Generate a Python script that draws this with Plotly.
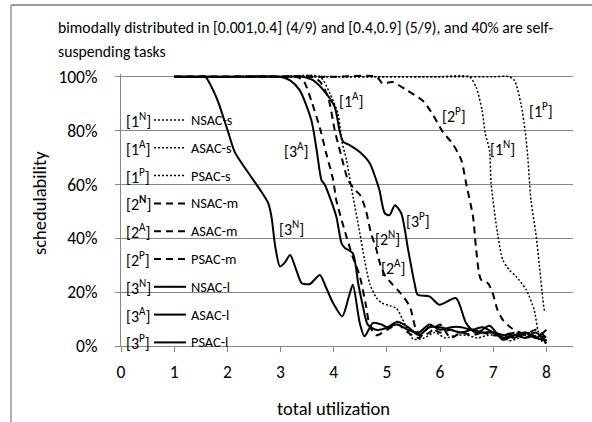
import plotly.graph_objects as go

# ---------------- data ----------------
x_1N = [1, 2, 3, 4, 5, 6, 6.55, 6.68, 6.79, 6.85, 6.93, 6.96, 7.08, 7.18, 7.30, 7.43, 7.62, 7.77, 7.87, 8.0]
y_1N = [100, 100, 100, 100, 100, 100, 100, 96, 87.5, 79, 72.7, 60.4, 41.9, 32, 28.3, 25.8, 20.9, 13.4, 4, 2]

x_1A = [1, 2, 3, 3.74, 3.93, 4.08, 4.15, 4.24, 4.33, 4.49, 4.58, 4.68, 4.80, 4.9, 5.05, 5.18, 5.33, 5.5,
        5.7, 5.9, 6.1, 6.3, 6.5, 6.7, 6.9, 7.1, 7.3, 7.5, 7.7, 7.9, 8.0]
y_1A = [100, 100, 100, 100, 93.7, 86.3, 76.4, 69, 59, 42, 32, 23, 18, 16, 15, 14, 8.5, 2.5,
        3, 5, 3, 4, 4, 3, 4, 4, 2, 3, 5, 2, 1]

x_1P = [1, 2, 3, 4, 5, 6, 7, 7.30, 7.40, 7.52, 7.60, 7.65, 7.71, 7.80, 7.87, 7.93, 7.97, 8.0]
y_1P = [100, 100, 100, 100, 100, 100, 100, 100, 98.6, 90, 80, 70, 54, 42, 29.5, 18, 13, 13]

x_2N = [1, 2, 3, 3.3, 3.43, 3.58, 3.74, 3.86, 3.99, 4.05, 4.24, 4.36, 4.49, 4.61, 4.68, 4.8, 5.0, 5.2,
        5.4, 5.6, 5.8, 6.0, 6.2, 6.4, 6.6, 6.8, 7.0, 7.2, 7.4, 7.6, 7.8, 8.0]
y_2N = [100, 100, 100, 100, 98.6, 91, 81, 71.5, 61.6, 54, 40.6, 33, 26, 14.7, 7.3, 4, 6, 8,
        5, 3, 7, 5, 6, 5, 6, 5, 4, 4, 5, 3, 4, 3]

x_2A = [1, 2, 3, 3.6, 3.75, 3.9, 4.02, 4.15, 4.27, 4.4, 4.5, 4.61, 4.7, 4.8, 4.88, 4.97, 5.1, 5.24,
        5.43, 5.55, 5.65, 5.8, 6.0, 6.2, 6.4, 6.6, 6.8, 7.0, 7.2, 7.4, 7.6, 7.8, 8.0]
y_2A = [100, 100, 100, 100, 98, 92, 80, 70, 61.6, 58, 56, 50, 42, 36, 30, 26, 23, 20,
        14.7, 6, 3.6, 5, 8, 3, 5, 4, 5, 5, 3, 5, 4, 6, 3]

x_2P = [1, 2, 3, 4, 4.8, 4.92, 5.11, 5.37, 5.68, 5.87, 6.05, 6.24, 6.40, 6.49, 6.62, 6.68, 6.77, 6.90,
        6.99, 7.08, 7.18, 7.34, 7.5, 7.7, 7.9, 8.0]
y_2P = [100, 100, 100, 100, 100, 97.5, 98, 95, 91, 85.7, 79.5, 75, 69, 60.4, 48, 35.7, 24.6, 23.3,
        19.6, 13.4, 9.7, 6.7, 5, 4, 3, 2]

x_3N = [1, 1.3, 1.45, 1.58, 1.8, 1.99, 2.14, 2.3, 2.49, 2.65, 2.77, 2.83, 2.9, 2.99, 3.08, 3.18, 3.3,
        3.40, 3.55, 3.74, 3.85, 3.99, 4.16, 4.28, 4.36, 4.49, 4.58, 4.74, 4.9, 5.0, 5.2, 5.4, 5.6, 5.8,
        6.0, 6.2, 6.4, 6.6, 6.8, 7.0, 7.2, 7.4, 7.6, 7.8, 8.0]
y_3N = [100, 100, 100, 100, 92, 81, 72, 67, 61.6, 57, 53, 48, 37, 29.5, 31, 33.8, 28,
        23.3, 23, 26.4, 22, 15.9, 11, 18, 22.7, 8.5, 3.6, 8.6, 8, 7, 8, 6, 5, 8,
        6, 7, 7, 6, 7, 5, 3, 4, 5, 3, 6]

x_3A = [1, 2, 3, 3.18, 3.36, 3.58, 3.68, 3.77, 3.83, 3.95, 4.05, 4.15, 4.21, 4.36, 4.46, 4.55, 4.64,
        4.8, 4.99, 5.2, 5.4, 5.6, 5.8, 6.0, 6.2, 6.4, 6.6, 6.8, 7.0, 7.2, 7.4, 7.6, 7.8, 8.0]
y_3A = [100, 100, 100, 98.6, 95, 83.8, 72.7, 61.6, 60, 54, 48, 38, 36.4, 34.4, 23.3, 14.7, 7.9,
        6, 6.7, 9, 7, 4, 7, 7, 6, 5, 6, 5, 5, 4, 3, 5, 3, 2]

x_3P = [1, 2, 3, 3.4, 3.61, 3.86, 4.02, 4.11, 4.18, 4.30, 4.49, 4.68, 4.80, 4.86, 4.96, 5.05, 5.15,
        5.27, 5.40, 5.52, 5.58, 5.80, 5.99, 6.30, 6.49, 6.68, 6.93, 7.18, 7.4, 7.6, 7.8, 8.0]
y_3P = [100, 100, 100, 100, 98.7, 93.7, 88.7, 80, 75.8, 74.6, 72, 67.8, 61.6, 57.9, 49.3, 48.6, 52.3,
        49.3, 35.7, 23.3, 19, 18.4, 15.3, 17.8, 8.5, 4.8, 7.5, 2.3, 4, 3, 5, 1]

series_names = ["NSAC-s", "ASAC-s", "PSAC-s", "NSAC-m", "ASAC-m", "PSAC-m", "NSAC-l", "ASAC-l", "PSAC-l"]
series_tags = ["1N", "1A", "1P", "2N", "2A", "2P", "3N", "3A", "3P"]
series_x = [x_1N, x_1A, x_1P, x_2N, x_2A, x_2P, x_3N, x_3A, x_3P]
series_y = [y_1N, y_1A, y_1P, y_2N, y_2A, y_2P, y_3N, y_3A, y_3P]

# curve label positions (data coords)
label_tags = ["1A", "2P", "1P", "3A", "1N", "3N", "2N", "2A", "3P"]
label_x = [4.32, 6.27, 7.89, 3.30, 7.18, 3.21, 5.02, 5.11, 5.58]
label_y = [91.5, 85.7, 87.8, 72.7, 73.7, 43.7, 40.0, 29.5, 46.8]

y_ticks = [0, 20, 40, 60, 80, 100]
x_ticks = [0, 1, 2, 3, 4, 5, 6, 7, 8]

title_lines = ["bimodally distributed in [0.001,0.4] (4/9) and [0.4,0.9] (5/9), and 40% are self-",
               "suspending tasks"]

# ---------------- styling ----------------
FONT = "Calibri, Carlito, Lato, sans-serif"
W, H = 592, 422
ML, MR, MT, MB = 121, 19, 74, 76
PW, PH = W - ML - MR, H - MT - MB


def px2paper_x(px):
    return (px - ML) / PW


def py2paper_y(py):
    return (H - MB - py) / PH


dash_of = {"1": "2px,2px", "2": "7px,5px", "3": "solid"}
width_of = {"1": 1.5, "2": 2, "3": 2}

fig = go.Figure()
for nm, tag, xs, ys in zip(series_names, series_tags, series_x, series_y):
    fig.add_trace(go.Scatter(
        x=xs, y=ys, mode="lines", name=nm, showlegend=False,
        line=dict(color="black", width=width_of[tag[0]], dash=dash_of[tag[0]],
                  shape="spline", smoothing=0.7),
    ))

annotations = []
shapes = []

# title (two lines)
for i, t in enumerate(title_lines):
    annotations.append(dict(
        xref="paper", yref="paper", x=px2paper_x(56), y=py2paper_y(28 + 23 * i),
        xanchor="left", yanchor="middle", text=t, showarrow=False,
        font=dict(family=FONT, size=15.7, color="black")))

# legend drawn inside the plot
for i, (nm, tag) in enumerate(zip(series_names, series_tags)):
    py = 120 + 27.8 * i
    yp = py2paper_y(py)
    sup = "<b>%s</b>" % tag[1] if tag == "2N" else tag[1]
    annotations.append(dict(
        xref="paper", yref="paper", x=px2paper_x(124), y=yp, xanchor="left", yanchor="middle",
        text="[%s<sup>%s</sup>]" % (tag[0], sup), showarrow=False,
        font=dict(family=FONT, size=16, color="black")))
    shapes.append(dict(
        type="line", xref="paper", yref="paper", x0=px2paper_x(154), x1=px2paper_x(186),
        y0=yp, y1=yp, line=dict(color="black", width=width_of[tag[0]], dash=dash_of[tag[0]])))
    annotations.append(dict(
        xref="paper", yref="paper", x=px2paper_x(189), y=yp, xanchor="left", yanchor="middle",
        text=nm, showarrow=False, font=dict(family=FONT, size=14.3, color="black")))

# curve labels
for tag, lx, ly in zip(label_tags, label_x, label_y):
    annotations.append(dict(
        xref="x", yref="y", x=lx, y=ly, xanchor="center", yanchor="middle",
        text="[%s<sup>%s</sup>]" % (tag[0], tag[1]), showarrow=False,
        font=dict(family=FONT, size=16, color="black")))

# axis titles
annotations.append(dict(
    xref="x", yref="paper", x=4, y=py2paper_y(408), xanchor="center", yanchor="middle",
    text="total utilization", showarrow=False, font=dict(family=FONT, size=18.5, color="black")))
annotations.append(dict(
    xref="paper", yref="paper", x=px2paper_x(39), y=py2paper_y(203), xanchor="center",
    yanchor="middle", text="schedulability", textangle=-90, showarrow=False,
    font=dict(family=FONT, size=18.5, color="black")))

# chart-area border (top and left edges visible)
shapes.append(dict(type="line", xref="paper", yref="paper", x0=px2paper_x(11), x1=px2paper_x(600),
                   y0=py2paper_y(5), y1=py2paper_y(5), line=dict(color="#9a9a9a", width=2)))
shapes.append(dict(type="line", xref="paper", yref="paper", x0=px2paper_x(11), x1=px2paper_x(11),
                   y0=py2paper_y(5), y1=py2paper_y(430), line=dict(color="#b0b0b0", width=2)))

fig.update_layout(
    width=W, height=H, margin=dict(l=ML, r=MR, t=MT, b=MB, pad=0),
    paper_bgcolor="white", plot_bgcolor="white",
    font=dict(family=FONT, size=14, color="black"),
    annotations=annotations, shapes=shapes, showlegend=False,
    xaxis=dict(range=[0, 8.5], tickvals=x_ticks, ticktext=[str(v) for v in x_ticks],
               showgrid=False, zeroline=False, showline=True, linecolor="#868686", linewidth=1,
               ticks="outside", ticklen=5, tickcolor="#868686", ticklabelstandoff=5,
               tickfont=dict(family=FONT, size=17.5, color="black")),
    yaxis=dict(range=[0, 101], tickvals=y_ticks, ticktext=["%d%%" % v for v in y_ticks],
               showgrid=True, gridcolor="#868686", gridwidth=1, zeroline=False,
               showline=True, linecolor="#868686", linewidth=1,
               ticks="outside", ticklen=5, tickcolor="#868686", ticklabelstandoff=14,
               tickfont=dict(family=FONT, size=17.5, color="black")),
)

fig.write_html("out.html")
